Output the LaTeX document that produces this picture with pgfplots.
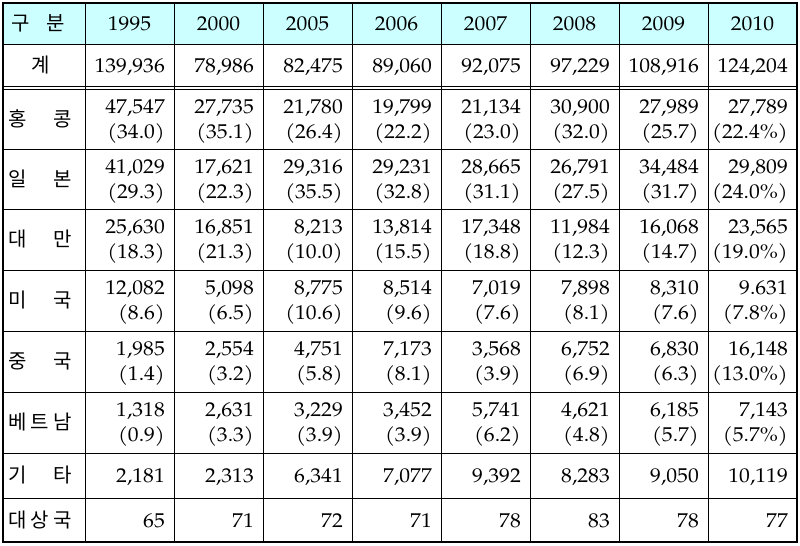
\documentclass[border=0pt]{standalone}
\usepackage{fontspec}
\setmainfont{TeX Gyre Pagella}[FakeStretch=1.08]
\newfontfamily\kr{Noto Sans CJK KR}
\usepackage{pgfplots}
\pgfplotsset{compat=1.18}
\usepackage{pgfplotstable}
\definecolor{hdr}{HTML}{CCFFFF}

% body cells: y is the baseline (pixels from the top)
\pgfplotstableread{
y     c1       c2      c3      c4      c5      c6      c7       c8
73    139,936  78,986  82,475  89,060  92,075  97,229  108,916  124,204
113   47,547   27,735  21,780  19,799  21,134  30,900  27,989   27,789
138   (34.0)   (35.1)  (26.4)  (22.2)  (23.0)  (32.0)  (25.7)   (22.4\%)
173   41,029   17,621  29,316  29,231  28,665  26,791  34,484   29,809
198   (29.3)   (22.3)  (35.5)  (32.8)  (31.1)  (27.5)  (31.7)   (24.0\%)
233   25,630   16,851  8,213   13,814  17,348  11,984  16,068   23,565
258   (18.3)   (21.3)  (10.0)  (15.5)  (18.8)  (12.3)  (14.7)   (19.0\%)
294   12,082   5,098   8,775   8,514   7,019   7,898   8,310    9.631
319   (8.6)    (6.5)   (10.6)  (9.6)   (7.6)   (8.1)   (7.6)    (7.8\%)
355   1,985    2,554   4,751   7,173   3,568   6,752   6,830    16,148
380   (1.4)    (3.2)   (5.8)   (8.1)   (3.9)   (6.9)   (6.3)    (13.0\%)
416   1,318    2,631   3,229   3,452   5,741   4,621   6,185    7,143
441   (0.9)    (3.3)   (3.9)   (3.9)   (6.2)   (4.8)   (5.7)    (5.7\%)
482   2,181    2,313   6,341   7,077   9,392   8,283   9,050    10,119
527   65       71      72      71      78      83      78       77
}\cells

\pgfplotstableread{
x      y     label
129.5  30.5  1995
218.5  30.5  2000
307.5  30.5  2005
396.5  30.5  2006
485.5  30.5  2007
574.5  30.5  2008
663.5  30.5  2009
752.5  30.5  2010
}\heads

\pgfplotstableread{
y      label
126    {홍\hfill 콩}
186    {일\hfill 본}
246.5  {대\hfill 만}
307.5  {미\hfill 국}
368.5  {중\hfill 국}
429.5  {베\hfill 트\hfill 남}
482.5  {기\hfill 타}
527    {대\hfill 상\hfill 국}
}\rows

\pgfplotsset{
  cell/.style={draw=none, mark=none, nodes near coords,
    point meta=explicit symbolic,
    every node near coord/.append style={anchor=base east, inner sep=0pt,
      font=\fontsize{20bp}{24bp}\selectfont}},
}

\begin{document}
\begin{tikzpicture}
\begin{axis}[
    width=800bp, height=545bp, scale only axis,
    hide axis, clip=false,
    xmin=0, xmax=800, ymin=0, ymax=545,
    y dir=reverse,
]
% page and header band
\addplot[fill=white, draw=none] coordinates {(0,0) (800,0) (800,545) (0,545)} -- cycle;
\addplot[fill=hdr, draw=none] coordinates {(3,3) (797,3) (797,44) (3,44)} -- cycle;

% rules
\addplot[black, line width=0.9bp, unbounded coords=jump] coordinates {
  (85,3) (85,542) (nan,nan) (174,3) (174,542) (nan,nan)
  (263,3) (263,542) (nan,nan) (352,3) (352,542) (nan,nan)
  (441,3) (441,542) (nan,nan) (530,3) (530,542) (nan,nan)
  (619,3) (619,542) (nan,nan) (708,3) (708,542) (nan,nan)
  (3,44) (797,44) (nan,nan) (3,86.6) (797,86.6) (nan,nan)
  (3,89.4) (797,89.4) (nan,nan) (3,149) (797,149) (nan,nan)
  (3,209) (797,209) (nan,nan) (3,270) (797,270) (nan,nan)
  (3,331) (797,331) (nan,nan) (3,392) (797,392) (nan,nan)
  (3,453) (797,453) (nan,nan) (3,498) (797,498)
};
\addplot[black, line width=2.6bp, line join=miter] coordinates {(3,3) (797,3) (797,542) (3,542)} -- cycle;

% header
\addplot[cell, every node near coord/.append style={anchor=base}] table[x=x, y=y, meta=label] {\heads};
\addplot[cell, every node near coord/.append style={anchor=base, font=\kr\fontsize{20bp}{24bp}\selectfont}]
  coordinates {(38,30.5) [구\hspace{0.8em}분] (40.5,73) [계]};

% row names
\addplot[cell, every node near coord/.append style={anchor=base, text width=63bp,
    font=\kr\fontsize{20bp}{24bp}\selectfont}] table[x expr=40, y=y, meta=label] {\rows};

% body
\addplot[cell] table[x expr=165, y=y, meta=c1] {\cells};
\addplot[cell] table[x expr=254, y=y, meta=c2] {\cells};
\addplot[cell] table[x expr=343, y=y, meta=c3] {\cells};
\addplot[cell] table[x expr=432, y=y, meta=c4] {\cells};
\addplot[cell] table[x expr=521, y=y, meta=c5] {\cells};
\addplot[cell] table[x expr=610, y=y, meta=c6] {\cells};
\addplot[cell] table[x expr=699, y=y, meta=c7] {\cells};
\addplot[cell] table[x expr=788, y=y, meta=c8] {\cells};
\end{axis}
\end{tikzpicture}
\end{document}
